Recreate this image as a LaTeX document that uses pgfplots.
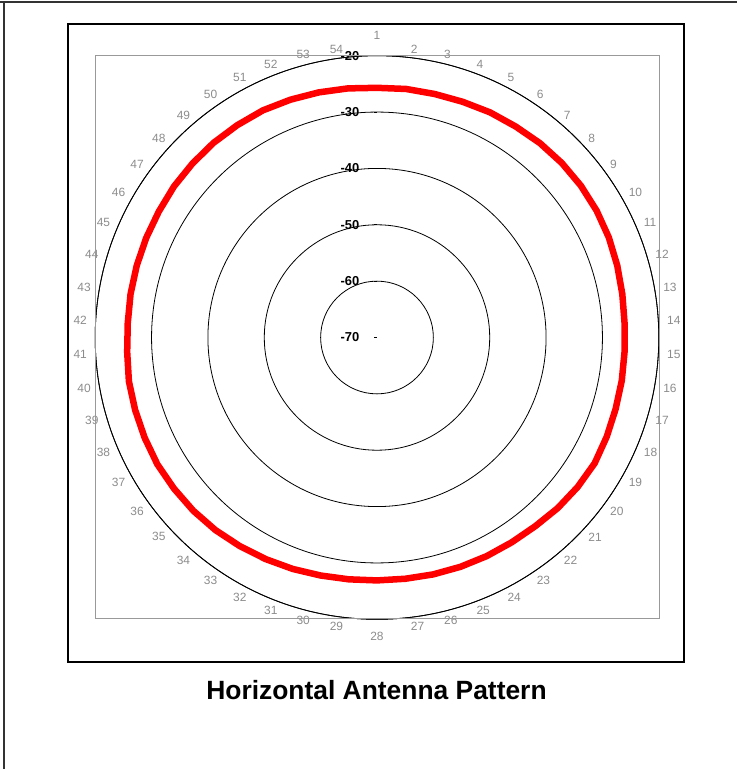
\documentclass[border=0pt]{standalone}
\usepackage{fontspec}
\setmainfont{Liberation Sans}
\usepackage{pgfplots}
\usepackage{pgfplotstable}
\usepgfplotslibrary{polar}
\pgfplotsset{compat=1.18}
\tikzset{radanchor/.code={%
  \pgfmathsetmacro\radA{mod(#1+720,360)}%
  \ifdim\radA pt<89.5pt \pgfkeysalso{/tikz/anchor=west, /tikz/shift={(#1:8.7bp)}}\else
  \ifdim\radA pt<90.5pt \pgfkeysalso{/tikz/anchor=south, /tikz/shift={(#1:16.4bp)}}\else
  \ifdim\radA pt<269.5pt \pgfkeysalso{/tikz/anchor=east, /tikz/shift={(#1:8.7bp)}}\else
  \ifdim\radA pt<270.5pt \pgfkeysalso{/tikz/anchor=north, /tikz/shift={(#1:13bp)}}\else
  \pgfkeysalso{/tikz/anchor=west, /tikz/shift={(#1:8.7bp)}}\fi\fi\fi\fi}}
\pgfplotstableread{
k db
1 -25.7
2 -25.6
3 -25.6
4 -25.5
5 -25.3
6 -25.2
7 -25.0
8 -24.9
9 -24.9
10 -25.0
11 -25.2
12 -25.5
13 -25.8
14 -26.0
15 -26.0
16 -25.9
17 -25.8
18 -25.6
19 -25.4
20 -25.6
21 -25.9
22 -26.3
23 -26.5
24 -26.6
25 -26.7
26 -26.8
27 -26.9
28 -26.9
29 -26.8
30 -26.6
31 -26.3
32 -26.0
33 -25.7
34 -25.4
35 -25.2
36 -25.1
37 -25.0
38 -25.1
39 -25.2
40 -25.3
41 -25.6
42 -25.7
43 -25.6
44 -25.5
45 -25.4
46 -25.3
47 -25.1
48 -25.0
49 -24.9
50 -24.9
51 -24.9
52 -25.1
53 -25.3
54 -25.5
55 -25.7
}\antdata
\begin{document}
\begin{tikzpicture}[x=1bp,y=1bp]
\begin{polaraxis}[
  scale only axis, width=563.6bp, height=563.6bp,
  xmin=90, xmax=450, ymin=0, ymax=50,
  clip=false,
  xtick={90.001,443.3333,436.6667,430,423.3333,416.6667,410,403.3333,396.6667,390,383.3333,376.6667,370,363.3333,356.6667,350,343.3333,336.6667,330,323.3333,316.6667,310,303.3333,296.6667,290,283.3333,276.6667,270,263.3333,256.6667,250,243.3333,236.6667,230,223.3333,216.6667,210,203.3333,196.6667,190,183.3333,176.6667,170,163.3333,156.6667,150,143.3333,136.6667,130,123.3333,116.6667,110,103.3333,96.6667},
  xticklabels={1,2,3,4,5,6,7,8,9,10,11,12,13,14,15,16,17,18,19,20,21,22,23,24,25,26,27,28,29,30,31,32,33,34,35,36,37,38,39,40,41,42,43,44,45,46,47,48,49,50,51,52,53,54},
  xticklabel style={font=\fontsize{12}{12}\selectfont, text=black!45, inner sep=0pt, radanchor=\tick},
  xtick style={draw=none},
  xmajorgrids=false,
  ytick={0,10,20,30,40,50},
  yticklabels={-70,-60,-50,-40,-30,-20},
  yticklabel style={font=\fontsize{13}{13}\selectfont\bfseries, anchor=east, inner sep=0pt, xshift=-17.5bp},
  ytick style={black, line width=0.8bp},
  major tick length=3bp,
  ymajorgrids,
  grid style={black, line width=0.8bp},
  x axis line style={black, line width=0.8bp},
  y axis line style={draw=none},
]
\addplot[red, line width=6.5bp, line join=round, line cap=round, mark=none]
  table[x expr={450-(\thisrow{k}-1)*20/3}, y expr={\thisrow{db}+70}] {\antdata};
\coordinate (C) at (axis cs:0,0);
\end{polaraxis}
\pgfresetboundingbox
\begin{scope}[shift={(C)}]
\begin{scope}[shift={(-377,337.5)}]
\useasboundingbox (0,0) rectangle (737,-769);
\draw[line width=1.8bp, black!80] (0,-2) -- (737,-2);
\draw[line width=1.5bp, black!80] (4,-2) -- (4,-769);
\draw[line width=1.5bp] (68,-24) rectangle (684,-662);
\draw[line width=1bp, black!40] (95,-56) rectangle (659,-619);
\node[anchor=base, font=\fontsize{26.5}{30}\selectfont\bfseries] at (376.5,-699) {Horizontal Antenna Pattern};
\end{scope}
\end{scope}
\end{tikzpicture}
\end{document}
